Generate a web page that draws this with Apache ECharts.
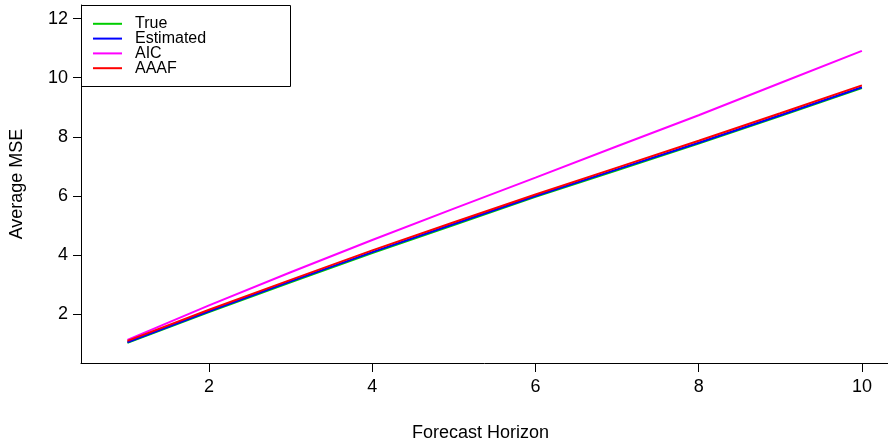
<!DOCTYPE html>
<html>
<head>
<meta charset="utf-8">
<script src="https://cdn.jsdelivr.net/npm/echarts@6/dist/echarts.min.js"></script>
<style>html,body{margin:0;padding:0;background:#fff}#c{width:888px;height:447px}</style>
</head>
<body>
<div id="c"></div>
<script>
const horizons = [1, 2, 3, 4, 5, 6, 7, 8, 9, 10];
const trueMSE = [1.03, 2.07, 3.08, 4.07, 5.02, 5.97, 6.87, 7.77, 8.70, 9.65];
const estimatedMSE = [1.05, 2.10, 3.11, 4.10, 5.05, 6.00, 6.90, 7.80, 8.73, 9.68];
const aicMSE = [1.13, 2.30, 3.42, 4.51, 5.57, 6.62, 7.68, 8.73, 9.82, 10.91];
const aaafMSE = [1.10, 2.15, 3.16, 4.16, 5.11, 6.05, 6.96, 7.87, 8.80, 9.74];
const xTicks = [2, 4, 6, 8, 10];
const yTicks = [2, 4, 6, 8, 10, 12];
const seriesNames = ['True', 'Estimated', 'AIC', 'AAAF'];
const seriesColors = ['#00CD00', '#0000FF', '#FF00FF', '#FF0000'];
const seriesData = [trueMSE, estimatedMSE, aicMSE, aaafMSE];

const FONT = 'Liberation Sans, Arial, sans-serif';
const FS = 18;
const LFS = 16;
const chart = echarts.init(document.getElementById('c'), null, {renderer: 'canvas'});
chart.setOption({
  animation: false,
  backgroundColor: '#fff',
  grid: {left: 81, right: 0, top: 5, bottom: 73.5, containLabel: false},
  xAxis: {
    type: 'value', min: 0.431, max: 10.32,
    name: 'Forecast Horizon', nameLocation: 'middle', nameGap: 61,
    nameTextStyle: {fontFamily: FONT, fontSize: FS, color: '#000', padding: [0, 8, 0, 0]},
    axisLine: {show: true, lineStyle: {color: '#000', width: 1}},
    axisTick: {show: true, length: 9, lineStyle: {color: '#000', width: 1}, customValues: xTicks},
    axisLabel: {show: true, margin: 15, fontFamily: FONT, fontSize: FS, color: '#000', customValues: xTicks},
    splitLine: {show: false}
  },
  yAxis: {
    type: 'value', min: 0.35, max: 12.46,
    name: 'Average MSE', nameLocation: 'middle', nameGap: 55, nameRotate: 90,
    nameTextStyle: {fontFamily: FONT, fontSize: FS, color: '#000'},
    axisLine: {show: true, lineStyle: {color: '#000', width: 1}},
    axisTick: {show: true, length: 8, lineStyle: {color: '#000', width: 1}, customValues: yTicks},
    axisLabel: {show: true, margin: 13, fontFamily: FONT, fontSize: FS, color: '#000', customValues: yTicks},
    splitLine: {show: false}
  },
  legend: {
    orient: 'vertical', left: 93, top: 15.8, padding: 0, itemGap: -1.2,
    itemWidth: 29, itemHeight: 2, icon: 'rect',
    textStyle: {fontFamily: FONT, fontSize: LFS, color: '#000', lineHeight: 15, padding: [0, 0, 0, 8]},
    data: seriesNames
  },
  graphic: [{
    type: 'rect', left: 81, top: 5, z: 0,
    shape: {width: 209, height: 81},
    style: {fill: '#fff', stroke: '#000', lineWidth: 1}
  }],
  series: seriesNames.map((n, i) => ({
    name: n, type: 'line', data: horizons.map((h, j) => [h, seriesData[i][j]]),
    showSymbol: false, symbol: 'none', color: seriesColors[i],
    lineStyle: {color: seriesColors[i], width: 2}, z: 2 + i
  }))
});
</script>
</body>
</html>
